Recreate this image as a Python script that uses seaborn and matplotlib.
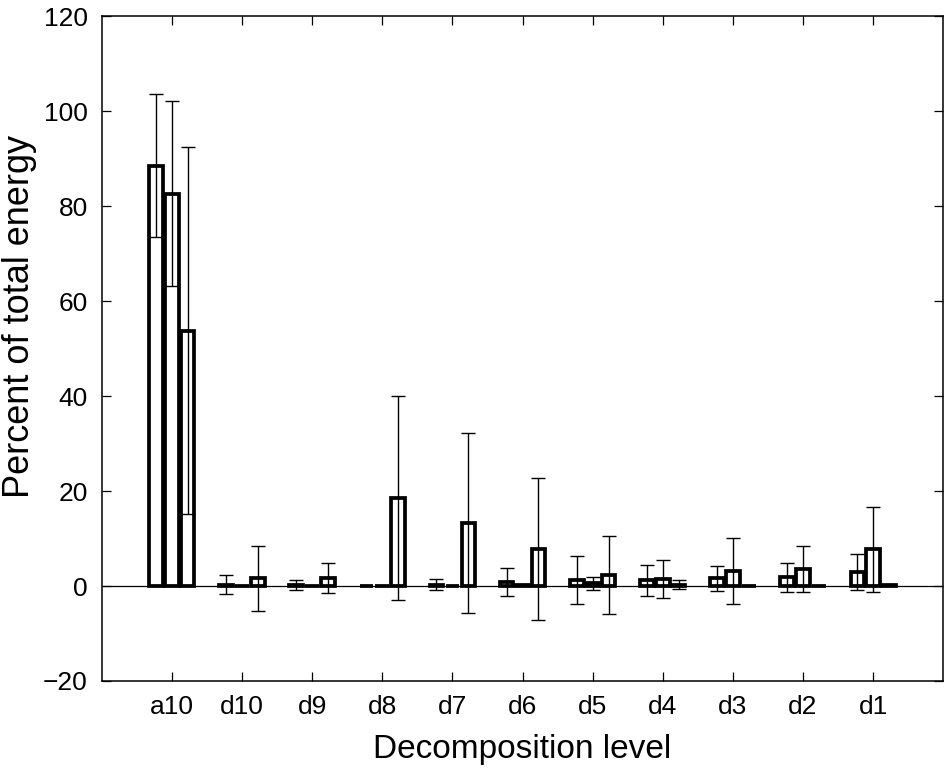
import matplotlib
matplotlib.use("Agg")
import matplotlib.pyplot as plt
import numpy as np
import pandas as pd
import seaborn as sns

levels = ["a10", "d10", "d9", "d8", "d7", "d6", "d5", "d4", "d3", "d2", "d1"]
series = ["s1", "s2", "s3"]

mean_s1 = [88.5, 0.3, 0.2, 0.1, 0.3, 0.8, 1.3, 1.2, 1.6, 1.8, 3.0]
mean_s2 = [82.6, 0.1, 0.1, 0.1, 0.1, 0.3, 0.6, 1.5, 3.2, 3.6, 7.7]
mean_s3 = [53.8, 1.6, 1.7, 18.5, 13.3, 7.8, 2.3, 0.3, 0.1, 0.1, 0.2]

err_s1 = [15.1, 2.0, 1.1, 0.0, 1.2, 2.9, 5.0, 3.2, 2.6, 3.1, 3.8]
err_s2 = [19.5, 0.0, 0.0, 0.0, 0.0, 0.0, 1.4, 4.0, 6.9, 4.9, 9.0]
err_s3 = [38.6, 6.9, 3.1, 21.5, 19.0, 15.0, 8.2, 0.9, 0.0, 0.0, 0.0]

means = [mean_s1, mean_s2, mean_s3]
errs = [err_s1, err_s2, err_s3]

df = pd.DataFrame({
    "level": levels * 3,
    "series": np.repeat(series, len(levels)),
    "value": mean_s1 + mean_s2 + mean_s3,
})

sns.set_style("white")
plt.rcParams["font.family"] = ["Liberation Sans", "DejaVu Sans"]

fig = plt.figure(figsize=(9.44, 7.7), dpi=100)
ax = fig.add_axes([0.1077, 0.1156, 0.8916, 0.8634])

sns.barplot(data=df, x="level", y="value", hue="series", order=levels,
            hue_order=series, palette=["white"] * 3, edgecolor="black",
            linewidth=2.7, width=0.68, gap=0.15, errorbar=None,
            legend=False, saturation=1, ax=ax)

# error bars on top of each bar, taken from the bar centres
n = len(levels)
for i in range(3):
    patches = ax.patches[i * n:(i + 1) * n]
    xs = np.array([p.get_x() + p.get_width() / 2 for p in patches])
    ys = np.array(means[i])
    es = np.array(errs[i])
    keep = es > 0
    ax.errorbar(xs[keep], ys[keep], yerr=es[keep], fmt="none",
                ecolor="black", elinewidth=1.0, capsize=4.8,
                capthick=1.0, zorder=5)

ax.axhline(0, color="black", linewidth=0.9, zorder=1)

ax.set_xlim(-1, 11)
ax.set_ylim(-20, 120)
ax.set_yticks(range(-20, 121, 20))
ax.set_yticklabels(["\u221220", "0", "20", "40", "60", "80", "100", "120"])
ax.tick_params(direction="in", length=6.5, width=0.9, labelsize=19,
               top=True, right=True, bottom=True, left=True,
               color="black", labelcolor="black", pad=10)
for sp in ax.spines.values():
    sp.set_color("black")
    sp.set_linewidth(1.1)

ax.set_xlabel("Decomposition level", fontsize=24, color="black", labelpad=11)
ax.set_ylabel("Percent of total energy", fontsize=26, color="black")
ax.yaxis.set_label_coords(-0.077, 0.549)

fig.savefig("out.png", dpi=100, facecolor="white")
